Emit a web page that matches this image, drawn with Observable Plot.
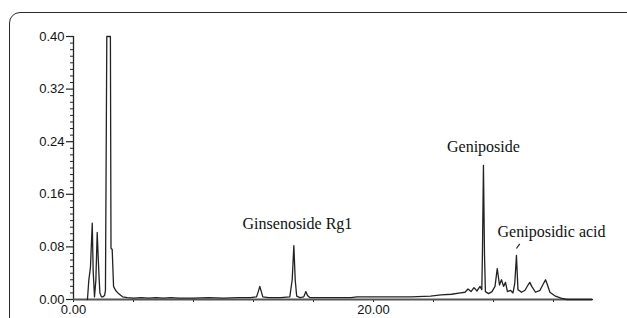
<!DOCTYPE html>
<html>
<head>
<meta charset="utf-8">
<script src="https://cdn.jsdelivr.net/npm/d3@7"></script>
<script src="https://cdn.jsdelivr.net/npm/@observablehq/plot@0.6"></script>
<style>
  html, body { margin: 0; padding: 0; background: #fff; overflow: hidden; }
  #wrap { position: relative; width: 627px; height: 318px; overflow: hidden; }
  #frame { position: absolute; left: 9px; top: 12px; width: 660px; height: 360px;
           border: 1.6px solid #2a2a2a; border-radius: 11px; box-sizing: border-box; }
  #chart { position: absolute; left: 0; top: 0; }
</style>
</head>
<body>
<div id="wrap"><div id="frame"></div><div id="chart"></div></div>
<script>
// Retention time (min)
const time = [0.93,1.02,1.13,1.25,1.31,1.40,1.49,1.58,1.64,1.70,1.76,1.86,1.95,2.07,2.13,2.22,2.46,2.50,2.58,2.67,2.80,3.00,3.27,3.6,4.0,4.5,5.0,5.5,6.0,6.5,7.0,8.0,9.0,10.0,11.0,11.8,12.2,12.32,12.42,12.52,12.62,13.0,13.8,14.42,14.58,14.69,14.78,14.88,15.1,15.35,15.49,15.6,15.75,16.5,17.5,18.5,18.9,19.5,21.0,22.5,23.8,24.5,25.2,25.8,26.1,26.3,26.5,26.7,26.9,27.1,27.22,27.26,27.33,27.40,27.46,27.67,27.9,28.1,28.25,28.4,28.53,28.67,28.8,28.93,29.13,29.3,29.42,29.53,29.63,29.87,30.1,30.3,30.42,30.55,30.8,31.1,31.35,31.47,31.6,31.76,32.13,32.5,32.9,33.5,34.6];
// Absorbance (AU)
const absorbance = [0.000,0.029,0.049,0.116,0.044,0.004,0.029,0.102,0.068,0.036,0.010,0.004,0.004,0.006,0.014,0.400,0.400,0.078,0.076,0.020,0.014,0.009,0.004,0.003,0.002,0.003,0.002,0.003,0.002,0.003,0.002,0.002,0.003,0.002,0.003,0.003,0.004,0.012,0.020,0.012,0.004,0.003,0.003,0.004,0.030,0.082,0.030,0.005,0.003,0.004,0.012,0.006,0.003,0.003,0.003,0.003,0.004,0.004,0.004,0.004,0.005,0.007,0.008,0.010,0.011,0.016,0.012,0.018,0.013,0.020,0.015,0.066,0.204,0.068,0.012,0.009,0.012,0.020,0.047,0.022,0.030,0.020,0.026,0.012,0.014,0.010,0.025,0.067,0.015,0.011,0.014,0.022,0.026,0.020,0.011,0.014,0.025,0.030,0.022,0.011,0.005,0.002,0.000,0.000,0.000];

const yMajor = [0, 0.08, 0.16, 0.24, 0.32, 0.40];
const yMinor = [0.01,0.02,0.03,0.04,0.05,0.06,0.07,0.09,0.10,0.11,0.12,0.13,0.14,0.15,0.17,0.18,0.19,0.20,0.21,0.22,0.23,0.25,0.26,0.27,0.28,0.29,0.30,0.31,0.33,0.34,0.35,0.36,0.37,0.38,0.39];
const xTicks = [0, 4, 8, 12, 16, 20, 24, 28, 32];
const xLabeled = [0, 20];

const peakNames = ["Ginsenoside Rg1", "Geniposide", "Geniposidic acid"];
const peakLabelX = [14.93, 27.33, 31.87];
const peakLabelY = [0.1065, 0.2236, 0.0958];
const leader = {x1: 29.53, y1: 0.0776, x2: 29.75, y2: 0.0847};

const trace = time.map((t, i) => ({t, v: absorbance[i]}));
const labels = peakNames.map((name, i) => ({name, x: peakLabelX[i], y: peakLabelY[i]}));

const ink = "#222";
const chart = Plot.plot({
  width: 627,
  height: 318,
  marginLeft: 73,
  marginRight: 35,
  marginTop: 36,
  marginBottom: 19,
  x: {domain: [0, 34.6]},
  y: {domain: [0, 0.40]},
  style: {fontFamily: "'Liberation Sans', Arial, sans-serif", background: "transparent", overflow: "visible"},
  marks: [
    Plot.axisY(yMinor, {tickSize: 3, tickFormat: () => "", stroke: ink, strokeWidth: 1}),
    Plot.axisY(yMajor, {tickSize: 7, tickPadding: 2, tickFormat: d3.format(".2f"), fontSize: 13, fill: "#111", stroke: ink, strokeWidth: 1.2, label: null}),
    Plot.axisX(xTicks, {tickSize: 3, tickPadding: 2, tickFormat: d => xLabeled.includes(d) ? d.toFixed(2) : "", fontSize: 13, fill: "#111", stroke: ink, label: null}),
    Plot.ruleX([0], {y1: 0, y2: 0.40, stroke: ink, strokeWidth: 1.3}),
    Plot.ruleY([0], {x1: 0, x2: 34.6, stroke: "#555", strokeWidth: 2}),
    Plot.line(trace, {x: "t", y: "v", stroke: ink, strokeWidth: 1.3}),
    Plot.link([leader], {x1: "x1", y1: "y1", x2: "x2", y2: "y2", stroke: ink, strokeWidth: 1.2}),
    Plot.text(labels, {x: "x", y: "y", text: "name", textAnchor: "middle", lineAnchor: "bottom",
      fontFamily: "'Liberation Serif', 'Times New Roman', serif", fontSize: 16, fill: "#111"})
  ]
});
document.getElementById("chart").appendChild(chart);
</script>
</body>
</html>
